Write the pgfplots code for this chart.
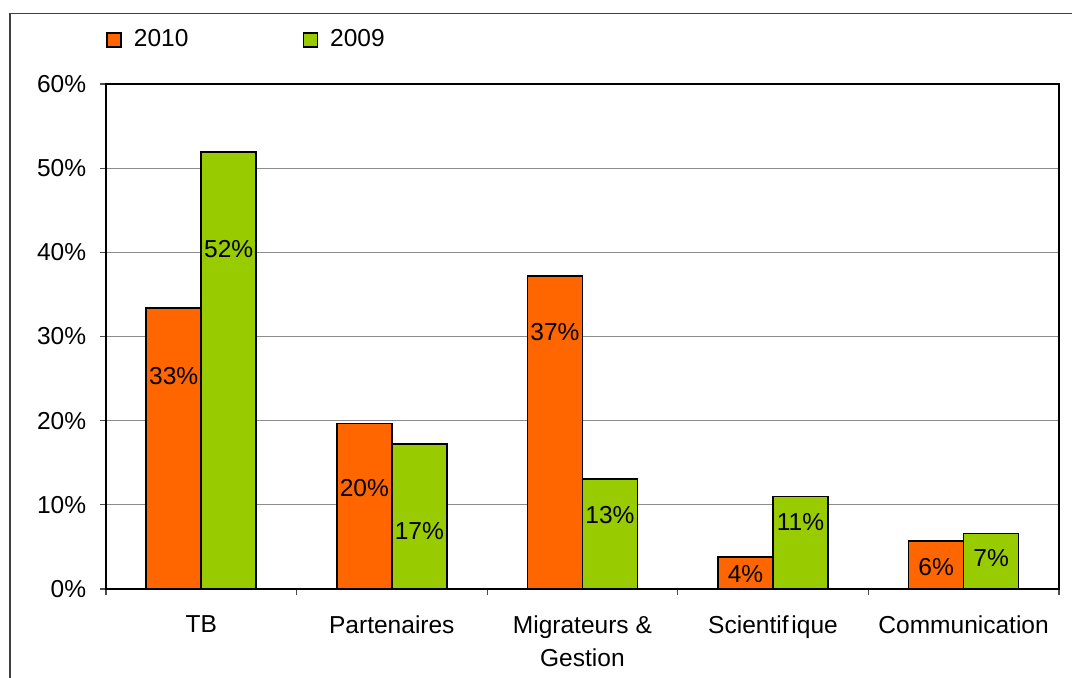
\documentclass[border=0pt]{standalone}
\usepackage{pgfplots}
\pgfplotsset{compat=1.18}
\usepackage{fontspec}
\setmainfont{Liberation Sans}
\definecolor{c2010}{HTML}{FF6600}
\definecolor{c2009}{HTML}{99CC00}
\begin{document}
\fontsize{10.3}{13.9}\selectfont
\begin{tikzpicture}
\useasboundingbox (-44.5pt,-37pt) rectangle (405.8pt,247.4pt);
\draw[black!75, line width=0.5pt] (-40.3pt,-45pt) -- (-40.3pt,241.8pt) -- (415pt,241.8pt);
\begin{axis}[
  at={(0,0)}, anchor=south west,
  scale only axis,
  width=400.3pt, height=212.1pt,
  xmin=-0.5, xmax=4.5,
  ymin=0, ymax=60,
  xtick={0,...,4},
  xticklabels={TB, Partenaires, {Migrateurs \&\\Gestion}, Scientif\kern1.2pt ique, Communication},
  minor xtick={-0.5,0.5,...,4.5},
  ytick={0,10,...,60},
  minor ytick={0,10,...,60},
  yticklabel={\pgfmathprintnumber{\tick}\%},
  /pgf/number format/assume math mode=true,
  major tick length=0pt,
  minor tick length=2.5pt,
  tick align=outside,
  tick pos=left,
  tick style={black!70, line width=0.5pt},
  axis line style={line width=0.75pt},
  ymajorgrids,
  grid style={gray!90, line width=0.45pt},
  yticklabel style={xshift=-4.7pt},
  xticklabel style={align=center, yshift=-7.5pt},
  legend columns=2,
  legend style={at={(0,1.087)}, anchor=west, xshift=-3pt, draw=none, fill=none,
    /tikz/every even column/.append style={column sep=46pt}},
  legend image code/.code={\draw[#1] (0pt,-2.95pt) rectangle (5.9pt,2.95pt);},
]
\addplot[ybar, bar width=23.1pt, bar shift=-11.55pt, fill=c2010, draw=black, line width=0.65pt]
  coordinates {(0,33.4) (1,19.65) (2,37.2) (3,3.8) (4,5.7)};
\addlegendentry{\hspace{3pt}2010}
\addplot[ybar, bar width=23.1pt, bar shift=11.55pt, fill=c2009, draw=black, line width=0.65pt]
  coordinates {(0,51.9) (1,17.2) (2,13.1) (3,11.0) (4,6.6)};
\addlegendentry{\hspace{3pt}2009}
\addplot[draw=none, forget plot, nodes near coords, point meta=explicit symbolic,
  every node near coord/.append style={anchor=center, xshift=-11.55pt, inner sep=0pt}]
  coordinates {(0,25.3)[33\%] (1,12.05)[20\%] (2,30.5)[37\%] (3,1.77)[4\%] (4,2.66)[6\%]};
\addplot[draw=none, forget plot, nodes near coords, point meta=explicit symbolic,
  every node near coord/.append style={anchor=center, xshift=11.55pt, inner sep=0pt}]
  coordinates {(0,40.36)[52\%] (1,6.9)[17\%] (2,8.75)[13\%] (3,7.9)[11\%] (4,3.7)[7\%]};
\end{axis}
\end{tikzpicture}
\end{document}
